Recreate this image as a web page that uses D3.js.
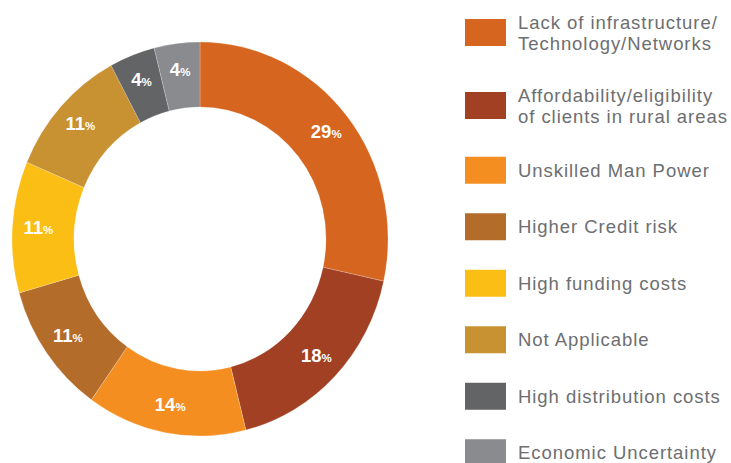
<!DOCTYPE html>
<html>
<head>
<meta charset="utf-8">
<script src="https://cdn.jsdelivr.net/npm/d3@7"></script>
<style>
  html, body { margin: 0; padding: 0; background: #fff; }
  svg { display: block; }
</style>
</head>
<body>
<svg id="chart" width="731" height="463"></svg>
<script>
const categories = [
  "Lack of infrastructure/\nTechnology/Networks",
  "Affordability/eligibility\nof clients in rural areas",
  "Unskilled Man Power",
  "Higher Credit risk",
  "High funding costs",
  "Not Applicable",
  "High distribution costs",
  "Economic Uncertainty"
];
const values = [29, 18, 14, 11, 11, 11, 4, 4];
const colors = ["#D6651F", "#A24023", "#F58E21", "#B36C2A", "#FBBE14", "#C89131", "#636466", "#8A8B8F"];

const svg = d3.select("#chart");
const cx = 200, cy = 239, rOuter = 188, rInner = 126, yScale = 1.048, rLabel = 162;

const pie = d3.pie().sort(null).value(d => d)(values);
const arc = d3.arc().innerRadius(rInner).outerRadius(rOuter);
const labelArc = d3.arc().innerRadius(rLabel).outerRadius(rLabel);

const g = svg.append("g").attr("transform", `translate(${cx},${cy}) scale(1,${yScale})`);
g.selectAll("path").data(pie).join("path")
  .attr("d", arc)
  .attr("fill", (d, i) => colors[i])
  .attr("stroke", "#ffffff")
  .attr("stroke-opacity", 0.35)
  .attr("stroke-width", 0.6);

const lg = svg.append("g").attr("transform", `translate(${cx},${cy})`);
const labels = lg.selectAll("text").data(pie).join("text")
  .attr("x", d => labelArc.centroid(d)[0])
  .attr("y", d => labelArc.centroid(d)[1] * yScale + 5)
  .attr("text-anchor", "middle")
  .attr("fill", "#ffffff")
  .attr("font-family", "'Liberation Sans Narrow', 'Arial Narrow', 'Liberation Sans', Arial, sans-serif")
  .attr("font-weight", "bold");
labels.append("tspan").attr("font-size", 18.5).text(d => d.value);
labels.append("tspan").attr("font-size", 11.5).text("%");

// Legend
const lineH = 21, singleH = 56.5, doubleExtra = 16.5;
const items = categories.map(c => c.split("\n"));
let centers = [];
let acc = 32.5;
items.forEach((lines, i) => {
  if (i > 0) {
    const hPrev = singleH + (items[i - 1].length - 1) * doubleExtra;
    const hCur = singleH + (lines.length - 1) * doubleExtra;
    acc += (hPrev + hCur) / 2;
  }
  centers.push(acc);
});

const leg = svg.append("g");
const li = leg.selectAll("g").data(items).join("g")
  .attr("transform", (d, i) => `translate(0,${centers[i]})`);
li.append("rect")
  .attr("x", 465).attr("y", -13.5).attr("width", 41).attr("height", 27)
  .attr("fill", (d, i) => colors[i]);
li.each(function(lines) {
  const t = d3.select(this).append("text")
    .attr("font-family", "'Liberation Sans', Arial, Helvetica, sans-serif")
    .attr("font-size", 18.5)
    .attr("letter-spacing", 0.95)
    .attr("fill", "#6D6E71");
  lines.forEach((ln, k) => {
    t.append("tspan").attr("x", 518)
      .attr("y", 6.5 + (k - (lines.length - 1) / 2) * lineH)
      .text(ln);
  });
});
</script>
</body>
</html>
